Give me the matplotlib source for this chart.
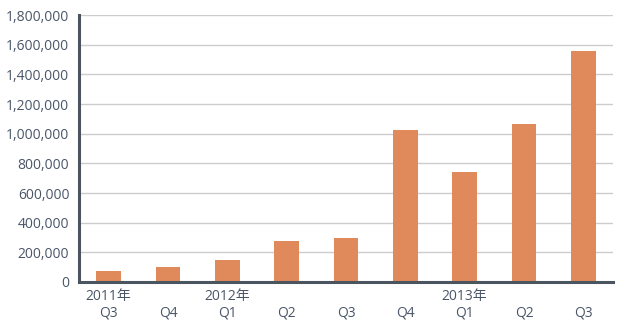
import matplotlib
matplotlib.use("Agg")
import matplotlib.pyplot as plt
from matplotlib.ticker import FuncFormatter

plt.rcParams['font.family'] = ['Open Sans', 'Noto Sans CJK SC', 'DejaVu Sans']

categories = ["2011年\nQ3", "\nQ4", "2012年\nQ1", "\nQ2", "\nQ3", "\nQ4", "2013年\nQ1", "\nQ2", "\nQ3"]
values = [75000, 100000, 148000, 276000, 297000, 1025000, 742000, 1065000, 1555000]
yticks = list(range(0, 1800001, 200000))

bar_color = "#E0895A"
spine_color = "#4B5560"
text_color = "#4A5668"
grid_color = "#CCCCCC"

fig = plt.figure(figsize=(6.3, 3.29), dpi=100)
ax = fig.add_axes([0.1254, 0.143, 0.973 - 0.1254, 0.954 - 0.143])

x = list(range(len(categories)))
ax.bar(x, values, width=0.42, color=bar_color, zorder=3)

ax.set_xlim(-0.5, 8.5)
ax.set_ylim(0, 1800000)
ax.set_yticks(yticks)
ax.yaxis.set_major_formatter(FuncFormatter(lambda v, p: f"{int(v):,}"))
ax.set_xticks(x)
ax.set_xticklabels(categories, multialignment='center', linespacing=1.15)

ax.grid(axis='y', color=grid_color, linewidth=1, zorder=0)
ax.set_axisbelow(True)

for s in ['top', 'right']:
    ax.spines[s].set_visible(False)
for s in ['left', 'bottom']:
    ax.spines[s].set_color(spine_color)
    ax.spines[s].set_linewidth(2.2)
    ax.spines[s].set_zorder(4)

ax.tick_params(axis='both', length=0, colors=text_color, labelsize=10)
ax.tick_params(axis='y', pad=7)
ax.tick_params(axis='x', pad=5)

fig.savefig("out.png", dpi=100)
